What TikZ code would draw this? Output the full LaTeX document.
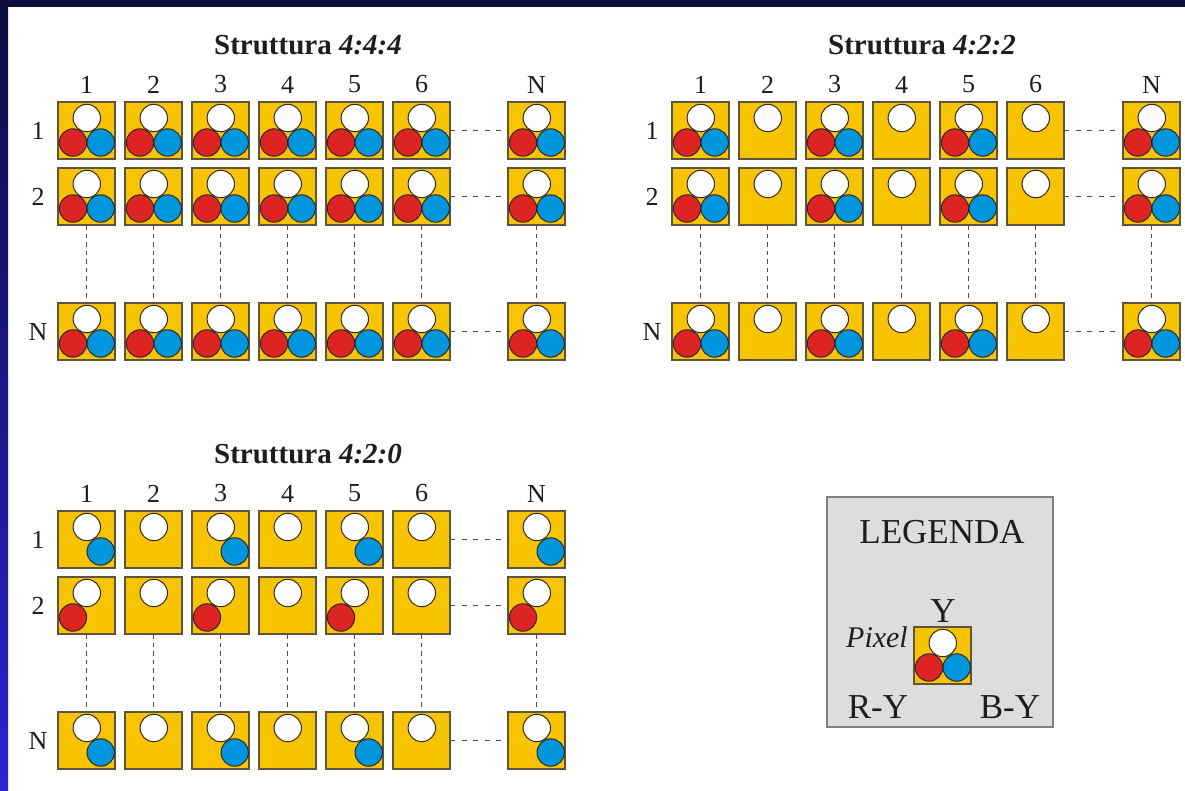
\documentclass[tikz,border=0pt]{standalone}
\usepackage{fontspec}
\setmainfont{Liberation Serif}
\begin{document}
\definecolor{pixyellow}{RGB}{248,196,0}
\definecolor{pixedge}{RGB}{95,85,60}
\definecolor{dotred}{RGB}{222,35,35}
\definecolor{dotblue}{RGB}{0,150,222}
\definecolor{dotedge}{RGB}{50,40,30}
\definecolor{dashgray}{RGB}{80,80,80}
\definecolor{inkgray}{RGB}{30,30,30}
\definecolor{navytop}{RGB}{12,12,62}
\definecolor{bandblue}{RGB}{40,36,215}
\definecolor{legfill}{RGB}{221,221,221}
\definecolor{legedge}{RGB}{130,130,130}
\tikzset{
  pixbox/.style={draw=pixedge,fill=pixyellow,line width=1.2pt,minimum size=57pt,inner sep=0pt,outer sep=0pt},
  lumadot/.style={fill=white,draw=dotedge,line width=1pt},
  reddot/.style={fill=dotred,draw=dotedge,line width=1pt},
  bluedot/.style={fill=dotblue,draw=dotedge,line width=1pt},
  hdots/.style={draw=dashgray,line width=1.8pt,dash pattern=on 5pt off 6.5pt},
  vdots/.style={draw=dashgray,line width=1.8pt,dash pattern=on 4.5pt off 4pt},
  numlbl/.style={text=inkgray,font=\fontsize{26}{28}\selectfont,inner sep=0pt},
  titlelbl/.style={text=inkgray,font=\fontsize{29}{31}\selectfont\bfseries,inner sep=0pt},
  leglbl/.style={text=inkgray,font=\fontsize{35}{37}\selectfont,inner sep=0pt}
}
% one pixel cell: box plus its samples (Y white, R-Y red, B-Y blue)
\newcommand{\pixnode}[3]{\node[pixbox] (#1) at (#2+28.5,#3+28.5) {};}
\newcommand{\dotY}[2]{\path[lumadot] (#1+28.8,#2+16) circle (13.7pt);}
\newcommand{\dotR}[2]{\path[reddot] (#1+15,#2+40.5) circle (13.7pt);}
\newcommand{\dotB}[2]{\path[bluedot] (#1+42.7,#2+40.5) circle (13.7pt);}
\newcommand{\pixF}[3]{\pixnode{#1}{#2}{#3}\dotY{#2}{#3}\dotR{#2}{#3}\dotB{#2}{#3}}
\newcommand{\pixY}[3]{\pixnode{#1}{#2}{#3}\dotY{#2}{#3}}
\newcommand{\pixB}[3]{\pixnode{#1}{#2}{#3}\dotY{#2}{#3}\dotB{#2}{#3}}
\newcommand{\pixR}[3]{\pixnode{#1}{#2}{#3}\dotY{#2}{#3}\dotR{#2}{#3}}
\begin{tikzpicture}[x=1pt,y=-1pt]
\useasboundingbox (0,0) rectangle (1185,790);
\fill[white] (0,0) rectangle (1185,790);
% frame edges
\shade[top color=navytop,bottom color=bandblue] (0,0) rectangle (8,790);
\fill[navytop] (0,0) rectangle (1185,7);

% ---------- 4:4:4 ----------
\node[titlelbl] (t444) at (308,45) {Struttura \textit{4:4:4}};
\foreach \c in {1,...,6} {
  \pgfmathsetmacro\px{58+67*(\c-1)}
  \node[numlbl] (a-col-\c) at (\px+28.5,84.5) {\c};
}
\node[numlbl] (a-col-N) at (536.5,84.5) {N};
\foreach \r/\ry in {1/102,2/168,N/303} {
  \node[numlbl] (a-row-\r) at (38,\ry+28.5) {\r};
  \foreach \c in {1,...,6} {
    \pgfmathsetmacro\px{58+67*(\c-1)}
    \pixF{a-\r-\c}{\px}{\ry}
  }
  \pixF{a-\r-N}{508}{\ry}
  \draw[hdots] (a-\r-6.east) -- (a-\r-N.west);
}
\foreach \c in {1,2,3,4,5,6,N}
  \draw[vdots] (a-2-\c.south) -- (a-N-\c.north);

% ---------- 4:2:2 ----------
\node[titlelbl] (t422) at (922,45) {Struttura \textit{4:2:2}};
\foreach \c in {1,...,6} {
  \pgfmathsetmacro\px{672+67*(\c-1)}
  \node[numlbl] (b-col-\c) at (\px+28.5,84.5) {\c};
}
\node[numlbl] (b-col-N) at (1151.5,84.5) {N};
\foreach \r/\ry in {1/102,2/168,N/303} {
  \node[numlbl] (b-row-\r) at (652,\ry+28.5) {\r};
  \foreach \c in {1,...,6} {
    \pgfmathsetmacro\px{672+67*(\c-1)}
    \ifodd\c \pixF{b-\r-\c}{\px}{\ry}\else \pixY{b-\r-\c}{\px}{\ry}\fi
  }
  \pixF{b-\r-N}{1123}{\ry}
  \draw[hdots] (b-\r-6.east) -- (b-\r-N.west);
}
\foreach \c in {1,2,3,4,5,6,N}
  \draw[vdots] (b-2-\c.south) -- (b-N-\c.north);

% ---------- 4:2:0 ----------
\node[titlelbl] (t420) at (308,454) {Struttura \textit{4:2:0}};
\foreach \c in {1,...,6} {
  \pgfmathsetmacro\px{58+67*(\c-1)}
  \node[numlbl] (c-col-\c) at (\px+28.5,493.5) {\c};
}
\node[numlbl] (c-col-N) at (536.5,493.5) {N};
\foreach \r/\ry/\k in {1/511/B,2/577/R,N/712/B} {
  \node[numlbl] (c-row-\r) at (38,\ry+28.5) {\r};
  \foreach \c in {1,...,6} {
    \pgfmathsetmacro\px{58+67*(\c-1)}
    \ifodd\c \csname pix\k\endcsname{c-\r-\c}{\px}{\ry}\else \pixY{c-\r-\c}{\px}{\ry}\fi
  }
  \csname pix\k\endcsname{c-\r-N}{508}{\ry}
  \draw[hdots] (c-\r-6.east) -- (c-\r-N.west);
}
\foreach \c in {1,2,3,4,5,6,N}
  \draw[vdots] (c-2-\c.south) -- (c-N-\c.north);

% ---------- legend ----------
\node[draw=legedge,fill=legfill,line width=1.5pt,minimum width=226pt,minimum height=230pt,inner sep=0pt] (legend) at (940,612) {};
\node[leglbl] (legtitle) at (942,532) {LEGENDA};
\pixF{legpix}{914}{627}
\node[leglbl] (legY) at (943,611) {Y};
\node[leglbl,font=\fontsize{30}{32}\selectfont\itshape,anchor=east] (legname) at (908,637) {Pixel};
\node[leglbl] (legRY) at (878,707) {R-Y};
\node[leglbl] (legBY) at (1010,707) {B-Y};
\end{tikzpicture}
\end{document}
